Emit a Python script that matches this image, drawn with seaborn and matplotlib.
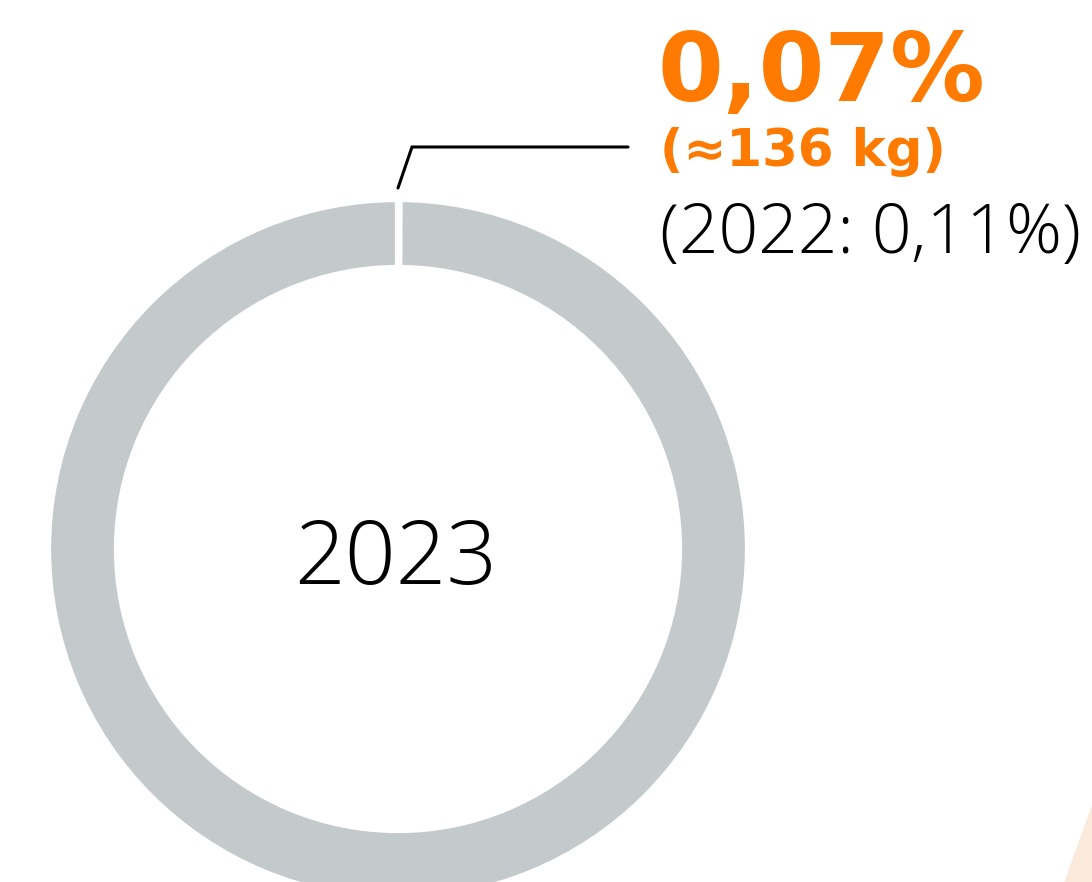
import matplotlib.pyplot as plt
import seaborn as sns

# data
shares = [0.07, 99.93]
slice_colors = ["white", "#c4c9cb"]
year = "2023"
share_label = "0,07%"
weight_label = "(≈136 kg)"
previous_label = "(2022: 0,11%)"

sns.set_theme(style="white")
plt.rcParams['font.family'] = ['Open Sans', 'DejaVu Sans']

W, H = 1092, 882
fig = plt.figure(figsize=(W / 100, H / 100), dpi=100)
ax = fig.add_axes([0, 0, 1, 1])

cx, cy = 398, H - 549
ax.pie(shares, colors=slice_colors, startangle=90, counterclock=False,
       center=(cx, cy), radius=350, frame=True,
       wedgeprops=dict(width=69, edgecolor='white', linewidth=4.5))
ax.set_xlim(0, W)
ax.set_ylim(0, H)
ax.set_aspect('equal')
ax.axis('off')

# light decorative shape in the corner
ax.fill([1065, 1092, 1092], [0, H - 807, 0], color='#fbe9dc', zorder=0)

# leader line
ax.plot([398, 412, 628], [H - 188, H - 147, H - 147], color='black', lw=2.2,
        solid_joinstyle='miter')

orange = '#ff7a00'
ax.text(658, H - 101, share_label, color=orange, fontsize=68, fontweight='bold',
        family='DejaVu Sans', ha='left', va='baseline')
ax.text(660, H - 166, weight_label, color=orange, fontsize=37, fontweight='heavy',
        family='DejaVu Sans', ha='left', va='baseline')
ax.text(660, H - 253, previous_label, color='black', fontsize=50, fontweight='light',
        ha='left', va='baseline')
ax.text(cx - 2, H - 584, year, color='black', fontsize=64, fontweight='light',
        ha='center', va='baseline')

fig.savefig('out.png', dpi=100)
